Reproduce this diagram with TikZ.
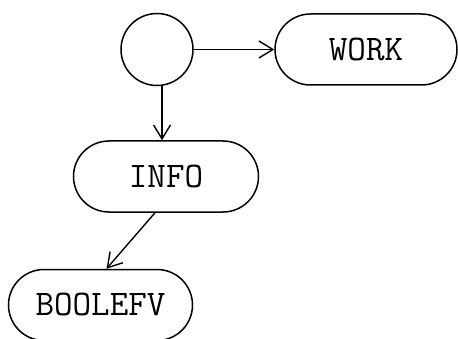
\documentclass[tikz,border=0pt]{standalone}
\usetikzlibrary{shapes.misc,arrows.meta}
\tikzset{
  pill/.style={rounded rectangle, draw, line width=1.5pt, minimum width=184pt,
    minimum height=71pt, inner sep=0pt, font=\fontsize{36}{36}\selectfont\ttfamily},
  blob/.style={circle, draw, line width=1.5pt, minimum size=72pt, inner sep=0pt},
  link/.style={line width=1.4pt, -{Straight Barb[length=14pt,width=17pt,line width=1.4pt]}}
}
\begin{document}
\begin{tikzpicture}[x=1pt,y=1pt]
  \useasboundingbox (0,0) rectangle (458,338);
  \node[blob] (circ) at (157,288.5) {};
  \node[pill, minimum width=182pt] (work) at (366,288.5) {WORK};
  \node[pill, minimum width=185pt] (info) at (166,161.5) {INFO};
  \node[pill] (boole) at (100.5,33) {BOOLEFV};
  \draw[link] (circ.east) -- (work.west);
  \draw[link] ([xshift=5pt]circ.south) -- ([xshift=-4pt]info.north);
  \draw[link] ([xshift=-11pt]info.south) -- ([xshift=6pt]boole.north);
\end{tikzpicture}
\end{document}
